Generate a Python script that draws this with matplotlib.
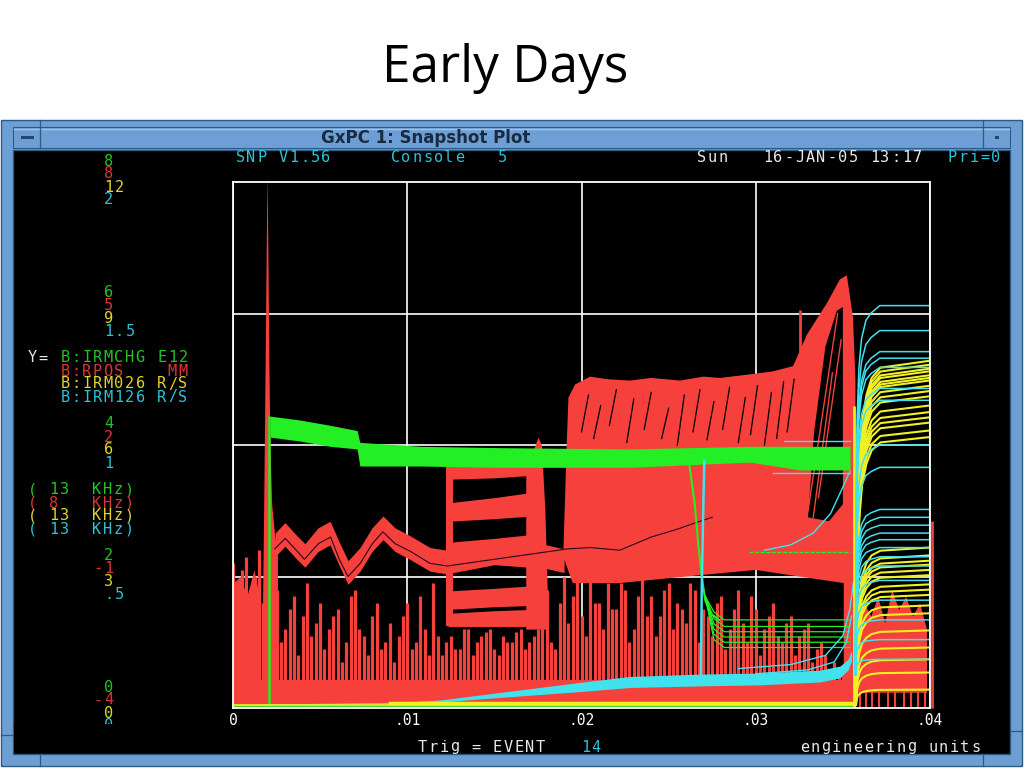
import numpy as np
import matplotlib.pyplot as plt
from matplotlib.patches import Rectangle, Polygon

# screen colours of the four channels
RED = '#f5403c'
GREEN = '#24ee24'
YELLOW = '#f0f022'
CYAN = '#40e2ee'
LBL = {'g': '#22c422', 'r': '#dc3434', 'y': '#e2d428', 'c': '#2ec2d2', 'w': '#e8e8e8'}

# scale labels, one per grid line from top to bottom
green_scale = ['8', '6', '4', '2', '0']
red_scale = ['8', '5', '2', '-1', '-4']
yellow_scale = ['12', '9', '6', '3', '0']
cyan_scale = ['2', '1.5', '1', '.5', '0']

x_ticks = [0, 0.01, 0.02, 0.03, 0.04]
x_labels = ['0', '.01', '.02', '.03', '.04']

# all traces: x in seconds, y in screen divisions (0..4)
# --- B:RPOS (red) ---
spike_top_a = [1.10, 1.05, 0.90, 1.20, 1.00, 0.90, 0.60, 0.85, 0.70, 0.55,
               0.80, 0.60, 0.75, 0.50, 0.90, 0.55, 0.70, 0.45, 0.65, 0.55,
               0.80, 0.50, 0.60, 0.95, 0.40, 0.55, 0.45, 0.60, 0.50, 0.58,
               0.45, 0.55, 0.50, 0.60, 0.50, 0.60, 0.90, 0.45, 1.00, 0.85,
               0.70, 1.00, 0.80, 0.95, 0.75, 0.90, 0.60, 1.00, 0.85, 0.70,
               0.95, 0.80, 0.65, 0.90, 0.75, 0.55, 0.85, 0.60, 0.90, 0.50,
               0.75, 0.60, 0.80, 0.50, 0.70, 0.55, 0.65, 0.45, 0.40, 0.35,
               0.30, 0.30]
spike_top_b = [0.95, 1.15, 1.00, 0.80, 1.30, 0.50, 0.75, 0.40, 0.95, 0.65,
               0.45, 0.70, 0.35, 0.85, 0.60, 0.40, 0.80, 0.50, 0.35, 0.70,
               0.45, 0.85, 0.40, 0.55, 0.50, 0.45, 0.60, 0.40, 0.55, 0.60,
               0.40, 0.50, 0.58, 0.45, 0.55, 0.70, 0.50, 0.80, 0.65, 1.00,
               0.55, 0.80, 0.60, 0.75, 0.95, 0.50, 0.85, 0.70, 0.55, 0.90,
               0.60, 0.75, 0.95, 0.50, 0.70, 0.80, 0.45, 0.75, 0.65, 0.85,
               0.40, 0.70, 0.55, 0.65, 0.40, 0.60, 0.35, 0.50, 0.30, 0.25,
               0.30]
floor_level = 0.21
left_fill_x = [0.0, 0.0004, 0.0008, 0.0012, 0.0016]
left_fill_y = [0.95, 1.00, 0.85, 1.05, 0.80]

peak_x = [0.00165, 0.00175, 0.00182, 0.00188, 0.00193, 0.00196, 0.00200,
          0.00206, 0.00212, 0.00222, 0.00240, 0.00255]
peak_y = [0.30, 1.40, 2.30, 3.10, 3.80, 4.05, 3.50, 2.60, 2.00, 1.55, 1.30, 1.20]

wave_x = [0.00241, 0.00298, 0.00367, 0.00413, 0.00488, 0.00557, 0.00614, 0.00660,
          0.00729, 0.00798, 0.00861, 0.00930, 0.01016, 0.01131, 0.01228,
          0.01500, 0.01800, 0.01900]
wave_c = [1.24, 1.32, 1.22, 1.16, 1.28, 1.33, 1.16, 1.03,
          1.13, 1.28, 1.37, 1.28, 1.22, 1.13, 1.11,
          1.18, 1.15, 1.12]

block_x = [0.01235, 0.0150, 0.0172]
block_top = [[1.85, 1.86, 1.88], [1.56, 1.60, 1.64], [1.26, 1.29, 1.32],
             [0.89, 0.91, 0.93], [0.72, 0.74, 0.75]]
block_bot = [[1.74, 1.75, 1.77], [1.42, 1.44, 1.46], [1.08, 1.11, 1.13],
             [0.75, 0.77, 0.78], [0.62, 0.62, 0.62]]
block_edge_x = [0.01225, 0.01262]
bump_x = [0.0168, 0.0172, 0.0175, 0.0177, 0.0179, 0.0181]
bump_y = [1.85, 1.95, 2.06, 2.00, 1.50, 0.60]

mass_x = [0.01895, 0.01915, 0.01925, 0.01963, 0.02049, 0.02150, 0.02278, 0.02400,
          0.02565, 0.02700, 0.02795, 0.02984, 0.03100, 0.03214, 0.03294, 0.03409,
          0.03483, 0.03523, 0.03558, 0.03572, 0.03575, 0.03505, 0.03505, 0.03250,
          0.03000, 0.02600, 0.02220, 0.01950]
mass_y = [1.15, 2.00, 2.36, 2.46, 2.52, 2.50, 2.49, 2.51,
          2.49, 2.52, 2.51, 2.54, 2.56, 2.60, 2.84, 3.08,
          3.26, 3.29, 2.97, 2.50, 0.00, 0.00, 0.95, 1.00,
          1.05, 1.00, 0.95, 0.95]
hole_x = [0.03300, 0.03335, 0.03400, 0.03465, 0.03500, 0.03500, 0.03420]
hole_y = [1.45, 2.10, 2.75, 3.02, 3.05, 1.55, 1.42]
late_spike_x, late_spike_y = 0.03254, 3.03
ramp_x = [[0.03300, 0.03470], [0.03330, 0.03440], [0.03360, 0.03490]]
ramp_y = [[1.50, 3.00], [1.45, 2.55], [1.60, 2.80]]

streak_x = [0.0200, 0.0207, 0.0216, 0.0226, 0.0236, 0.0246, 0.0255, 0.0264,
            0.0272, 0.0281, 0.0290, 0.0297, 0.0305, 0.0312, 0.0318]
streak_lo = [2.10, 2.05, 2.15, 2.02, 2.12, 2.05, 2.00, 2.10, 2.04, 2.12,
             2.02, 2.08, 2.00, 2.05, 2.10]
streak_hi = [2.38, 2.30, 2.42, 2.35, 2.40, 2.28, 2.38, 2.42, 2.33, 2.44,
             2.36, 2.45, 2.40, 2.48, 2.50]
mean_x = [0.0024, 0.0030, 0.0037, 0.0041, 0.0049, 0.0056, 0.0061, 0.0066, 0.0073,
          0.0080, 0.0086, 0.0093, 0.0102, 0.0113, 0.0123, 0.0192, 0.0205, 0.0222,
          0.0240, 0.0255, 0.0268, 0.0275]
mean_y = [1.21, 1.29, 1.19, 1.13, 1.25, 1.30, 1.13, 1.00, 1.10,
          1.25, 1.34, 1.25, 1.19, 1.10, 1.08, 1.21, 1.22, 1.20,
          1.30, 1.36, 1.42, 1.45]

red_right_x = [0.0358, 0.0362, 0.0366, 0.0370, 0.0374, 0.0378, 0.0382, 0.0386,
               0.0390, 0.0394, 0.0398]
red_right_top = [0.55, 0.80, 0.70, 0.85, 0.65, 0.90, 0.75, 0.85, 0.70, 0.80, 0.60]
red_right_spk_x = [0.0360, 0.0363, 0.0367, 0.0371, 0.0376, 0.0380, 0.0385, 0.0389,
                   0.0393, 0.0397]
red_right_spk_y = [0.50, 0.30, 0.45, 0.25, 0.35, 0.30, 0.40, 0.20, 0.35, 0.45]
edge_line_x, edge_line_y = 0.0401, 1.42

# --- B:IRMCHG (green) ---
green_rise_x, green_rise_y = 0.00207, 2.22
gband_x = [0.00212, 0.00385, 0.00557, 0.00712, 0.00728, 0.01073, 0.01532, 0.02278,
           0.02967, 0.03254, 0.03541]
gband_top = [2.22, 2.19, 2.15, 2.11, 2.02, 1.99, 1.98, 1.97, 1.99, 1.99, 1.99]
gband_bot = [2.06, 2.03, 1.99, 1.97, 1.84, 1.84, 1.83, 1.83, 1.87, 1.81, 1.81]
gdip_x = [0.0262, 0.0265, 0.0267, 0.0269, 0.0271, 0.0274, 0.0279]
gdip_y = [1.84, 1.55, 1.25, 1.00, 0.82, 0.72, 0.67]
gflat_levels = [0.67, 0.62, 0.58, 0.54, 0.50, 0.46]
gmid_x, gmid_y = [0.0296, 0.0354], [1.19, 1.19]

# --- B:IRM126 (cyan) ---
cband_x = [0.0, 0.00958, 0.01188, 0.01417, 0.01704, 0.01991, 0.02278, 0.0268,
           0.03024, 0.03368, 0.03483, 0.03530, 0.0355]
cband_c = [0.023, 0.038, 0.053, 0.084, 0.122, 0.160, 0.198, 0.213,
           0.221, 0.243, 0.274, 0.33, 0.40]
cband_hw = [0.004, 0.006, 0.008, 0.015, 0.025, 0.035, 0.042, 0.045,
            0.045, 0.045, 0.045, 0.04, 0.04]
cspike_x = [0.02685, 0.02690, 0.02700, 0.02705]
cspike_y = [0.22, 0.90, 1.60, 1.88]
cup1_x = [0.0290, 0.0320, 0.0340, 0.0350, 0.0354, 0.0356]
cup1_y = [0.30, 0.33, 0.40, 0.55, 0.75, 0.95]
cup2_x = [0.0300, 0.0330, 0.0345, 0.0352, 0.0355]
cup2_y = [0.26, 0.29, 0.35, 0.50, 0.70]
cs_x = [0.0305, 0.0320, 0.0333, 0.0343, 0.0350, 0.0354]
cs_y = [1.20, 1.24, 1.33, 1.48, 1.68, 1.80]
chl_x = [[0.0316, 0.0354], [0.0310, 0.0354]]
chl_y = [[2.03, 2.03], [1.79, 1.79]]
cyan_levels = [3.06, 2.87, 2.71, 2.66, 2.59, 2.43, 2.34, 2.00, 1.83, 1.51, 1.45,
               1.39, 1.33, 1.28, 1.22, 1.15, 1.08, 0.97, 0.82, 0.67, 0.52, 0.37]
cyan_base = 0.25
rise_dx = [0, 0.00004, 0.0001, 0.0002, 0.00035, 0.0006, 0.0009, 0.0014, 0.0042]
cyan_frac = [0, 0.45, 0.70, 0.83, 0.91, 0.96, 0.98, 1.0, 1.0]

# --- B:IRM026 (yellow) ---
yellow_levels = [2.64, 2.61, 2.58, 2.56, 2.53, 2.51, 2.49, 2.45, 2.41, 2.37,
                 2.30, 2.25, 2.21, 2.17, 2.11, 2.06, 1.22, 1.16, 1.12, 1.09,
                 1.05, 1.01, 0.94, 0.90, 0.86, 0.78, 0.72, 0.59, 0.46, 0.37,
                 0.27, 0.14]
yellow_base = 0.03
yellow_frac = [0, 0.35, 0.55, 0.70, 0.82, 0.90, 0.95, 0.98, 1.0]
rise_x0 = 0.03572

PITCH = 10.7
AX_L, AX_R, AX_T, AX_B = 233, 930, 182, 708

fig = plt.figure(figsize=(10.24, 7.68), dpi=100)
fig.patch.set_facecolor('white')
bg = fig.add_axes([0, 0, 1, 1])
bg.set_xlim(0, 1024)
bg.set_ylim(768, 0)
bg.axis('off')


def term(x, y, s, color):
    # fixed-pitch terminal text, y is the middle of the cap height
    for i, ch in enumerate(s):
        if ch != ' ':
            bg.text(x + (i + 0.5) * PITCH, y + 5.5, ch, color=color, fontsize=11,
                    family='DejaVu Sans Mono', ha='center', va='baseline')


fig.text(505 / 1024, 1 - 68 / 768, 'Early Days', ha='center', va='center',
         fontsize=37, family='Open Sans', color='black')

# window frame
frame_c, line_c = '#6e9fd4', '#2c5a86'
bg.add_patch(Rectangle((1, 120), 1021, 646, fc=frame_c, ec=line_c, lw=1))
bg.add_patch(Rectangle((13, 127), 997, 21, fc=frame_c, ec=line_c, lw=0.8))
bg.plot([14, 1009], [128.5, 128.5], color='#9cc3ec', lw=1)
bg.add_patch(Rectangle((13, 150), 997, 604, fc='black', ec=line_c, lw=1))
for x in (40, 983):
    bg.plot([x, x], [120, 148], color=line_c, lw=0.9)
    bg.plot([x, x], [754, 766], color=line_c, lw=0.9)
bg.plot([1, 13], [735, 735], color=line_c, lw=0.9)
bg.plot([1010, 1022], [731, 731], color=line_c, lw=0.9)
bg.add_patch(Rectangle((21, 136), 13, 3, fc='#24476b'))
bg.add_patch(Rectangle((995, 136), 4, 3, fc='#24476b'))
bg.text(426, 138, 'GxPC 1: Snapshot Plot', ha='center', va='center',
        fontsize=12, fontweight='bold', color='#1a2a40', family='DejaVu Sans')

# header / footer lines
term(235, 156, 'SNP V1.56', LBL['c'])
term(390, 156, 'Console   5', LBL['c'])
term(696, 156, 'Sun', LBL['w'])
term(762, 156, '16-JAN-05 13:17', LBL['w'])
term(947, 156, 'Pri=0', LBL['c'])
term(417, 746, 'Trig = EVENT', LBL['w'])
term(580, 746, '14', LBL['c'])
term(799, 746, 'engineering units', LBL['w'])

# scale labels beside each grid line
for k in range(5):
    gy = AX_T + k * (AX_B - AX_T) / 4 - 22
    for j, (lab, c) in enumerate(zip([green_scale[k], red_scale[k], yellow_scale[k],
                                      cyan_scale[k]], 'gryc')):
        txt = lab if lab.startswith('-') else ' ' + lab
        term(92.5, gy + 13 * j, txt, LBL[c])

term(27, 357, 'Y=', LBL['w'])
names = ['B:IRMCHG E12', 'B:RPOS    MM', 'B:IRM026 R/S', 'B:IRM126 R/S']
rates = ['( 13  KHz)', '( 8   KHz)', '( 13  KHz)', '( 13  KHz)']
for j, c in enumerate('gryc'):
    term(60, 357 + 13 * j, names[j], LBL[c])
    term(27, 489 + 13 * j, rates[j], LBL[c])
bg.add_patch(Rectangle((14, 724), 200, 29, fc='black', zorder=5))

# plot area
ax = fig.add_axes([AX_L / 1024, 1 - AX_B / 768, (AX_R - AX_L) / 1024, (AX_B - AX_T) / 768])
ax.set_facecolor('black')
ax.set_xlim(0, 0.04)
ax.set_ylim(0, 4)
ax.set_xticks(x_ticks)
ax.set_xticklabels(x_labels, family='DejaVu Sans Mono', fontsize=10.5, color='white')
ax.set_yticks([1, 2, 3])
ax.tick_params(axis='both', length=0, pad=3.5)
ax.tick_params(axis='y', labelleft=False)
ax.grid(True, color='white', lw=1.2, zorder=0.5)
ax.set_axisbelow(True)
for s in ax.spines.values():
    s.set_color('white')
    s.set_linewidth(1.3)
    s.set_zorder(6)

# red
xa = np.linspace(0, 0.0355, len(spike_top_a))
xb = np.linspace(0.00025, 0.03525, len(spike_top_b))
ax.vlines(xa, 0, spike_top_a, color=RED, lw=2.3, zorder=2)
ax.vlines(xb, 0, spike_top_b, color=RED, lw=2.3, zorder=2)
ax.fill_between([0, 0.0357], 0, floor_level, color=RED, lw=0, zorder=2)
ax.fill_between(left_fill_x, 0, left_fill_y, color=RED, lw=0, zorder=2)
ax.fill_between(peak_x, 0, peak_y, color=RED, lw=0, zorder=2, clip_on=False)
wc = np.array(wave_c)
ax.fill_between(wave_x, wc - 0.09, wc + 0.09, color=RED, lw=0, zorder=2)
for top, bot in zip(block_top, block_bot):
    ax.fill_between(block_x, bot, top, color=RED, lw=0, zorder=2)
ax.fill_between(block_edge_x, 0.62, 1.86, color=RED, lw=0, zorder=2)
ax.fill_between(bump_x, 0.6, bump_y, color=RED, lw=0, zorder=2)
ax.add_patch(Polygon(np.column_stack([mass_x, mass_y]), fc=RED, lw=0, zorder=2))
ax.add_patch(Polygon(np.column_stack([hole_x, hole_y]), fc='black', lw=0, zorder=2.2))
for xs, ys in zip(ramp_x, ramp_y):
    ax.plot(xs, ys, color=RED, lw=1, zorder=2.3)
ax.vlines(late_spike_x, 2.5, late_spike_y, color=RED, lw=2, zorder=2.3)
for x0, lo, hi in zip(streak_x, streak_lo, streak_hi):
    ax.plot([x0, x0 + 0.0004], [lo, hi], color='black', lw=0.9, zorder=2.4)
ax.plot(mean_x, mean_y, color='#2a0820', lw=0.8, zorder=2.4)
ax.fill_between(red_right_x, 0.12, red_right_top, color=RED, lw=0, zorder=2)
ax.vlines(red_right_spk_x, 0, red_right_spk_y, color=RED, lw=1.5, zorder=2)
ax.vlines(edge_line_x, 0, edge_line_y, color=RED, lw=2, zorder=2, clip_on=False)

# green
ax.vlines(green_rise_x, 0, green_rise_y, color=GREEN, lw=1.8, zorder=3)
ax.fill_between(gband_x, gband_bot, gband_top, color=GREEN, lw=0, zorder=3)
ax.plot(gdip_x, gdip_y, color=GREEN, lw=1.5, zorder=3)
for lv in gflat_levels:
    ax.plot([0.0271, 0.0276, 0.0282, 0.0354], [0.85, lv + 0.06, lv, lv],
            color=GREEN, lw=0.9, zorder=3)
ax.plot(gmid_x, gmid_y, color=GREEN, lw=1, ls=(0, (3, 1)), zorder=3)
ax.plot([0, 0.0357], [0.006, 0.006], color=GREEN, lw=1.2, zorder=3)

# cyan / yellow
cc, hw = np.array(cband_c), np.array(cband_hw)
ax.fill_between(cband_x, cc - hw, cc + hw, color=CYAN, lw=0, zorder=3)
ax.plot(cspike_x, cspike_y, color=CYAN, lw=1.8, zorder=3)
for xs, ys in [(cup1_x, cup1_y), (cup2_x, cup2_y), (cs_x, cs_y)] + list(zip(chl_x, chl_y)):
    ax.plot(xs, ys, color=CYAN, lw=1, zorder=3)
ax.plot([0, 0.0357], [0.025, 0.025], color=YELLOW, lw=1.2, zorder=3)
ax.plot([0.009, 0.0357], [0.035, 0.035], color=YELLOW, lw=2.5, zorder=3)
ax.vlines(0.03565, 0, 2.3, color=YELLOW, lw=2, zorder=3)

rx = rise_x0 + np.array(rise_dx)
yf = np.array(yellow_frac)
for lv in yellow_levels:
    ax.plot(rx + 0.00003, yellow_base + (lv - yellow_base) * yf, color=YELLOW, lw=1.5, zorder=3.2)
cf = np.array(cyan_frac)
for lv in cyan_levels:
    ax.plot(rx, cyan_base + (lv - cyan_base) * cf, color=CYAN, lw=1.1, zorder=3.4)

fig.savefig('out.png', dpi=100, facecolor='white')
